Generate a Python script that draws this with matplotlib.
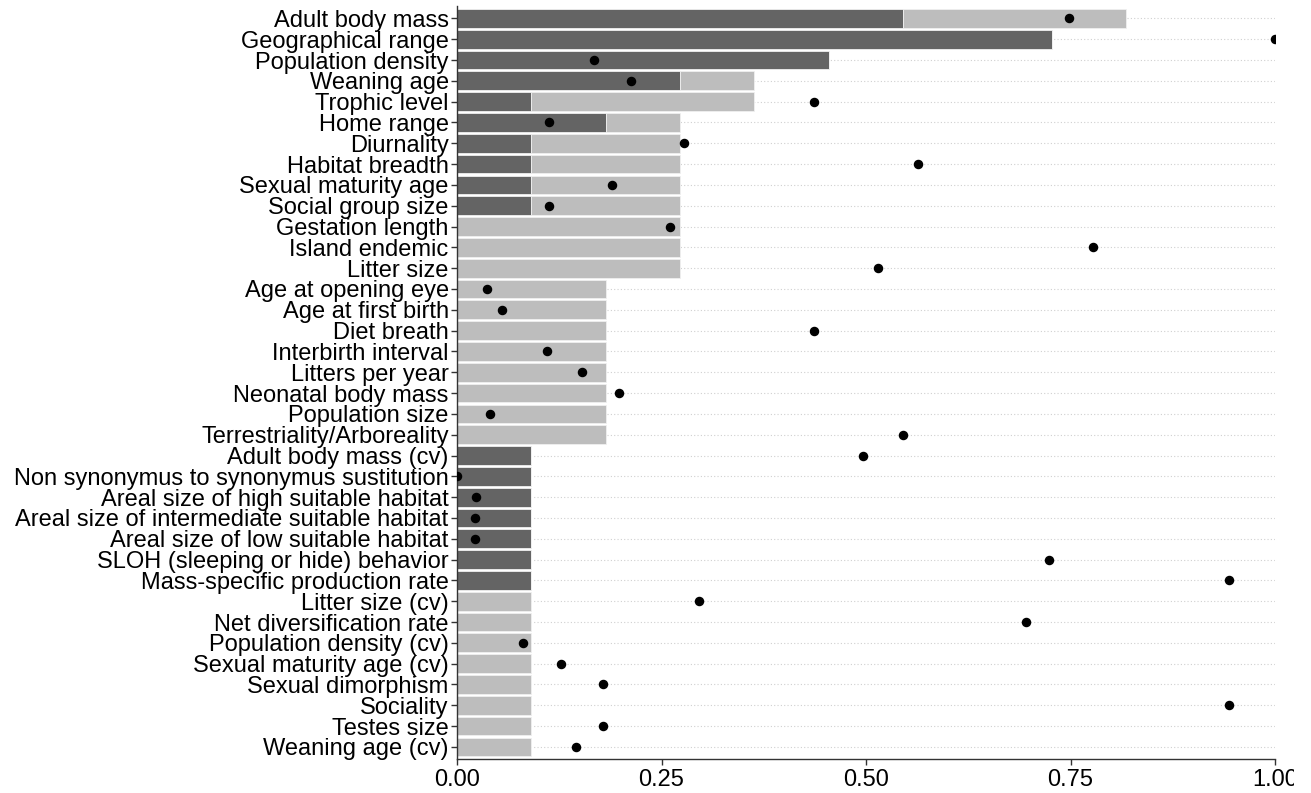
import matplotlib
matplotlib.use("Agg")
import matplotlib.pyplot as plt
from matplotlib.transforms import Bbox
import numpy as np

plt.rcParams['font.family'] = ['Liberation Sans', 'DejaVu Sans']

# variables, top to bottom
variables = [
    "Adult body mass", "Geographical range", "Population density", "Weaning age",
    "Trophic level", "Home range", "Diurnality", "Habitat breadth",
    "Sexual maturity age", "Social group size", "Gestation length", "Island endemic",
    "Litter size", "Age at opening eye", "Age at first birth", "Diet breath",
    "Interbirth interval", "Litters per year", "Neonatal body mass", "Population size",
    "Terrestriality/Arboreality", "Adult body mass (cv)",
    "Non synonymus to synonymus sustitution", "Areal size of high suitable habitat",
    "Areal size of intermediate suitable habitat", "Areal size of low suitable habitat",
    "SLOH (sleeping or hide) behavior", "Mass-specific production rate",
    "Litter size (cv)", "Net diversification rate", "Population density (cv)",
    "Sexual maturity age (cv)", "Sexual dimorphism", "Sociality", "Testes size",
    "Weaning age (cv)",
]

# counts out of 11 studies
n_studies = 11
dark_counts = [6, 8, 5, 3, 1, 2, 1, 1, 1, 1, 0, 0, 0, 0, 0, 0, 0, 0, 0, 0, 0,
               1, 1, 1, 1, 1, 1, 1, 0, 0, 0, 0, 0, 0, 0, 0]
light_counts = [3, 0, 0, 1, 3, 1, 2, 2, 2, 2, 3, 3, 3, 2, 2, 2, 2, 2, 2, 2, 2,
                0, 0, 0, 0, 0, 0, 0, 1, 1, 1, 1, 1, 1, 1, 1]

# point values
importance = [0.748, 1.000, 0.167, 0.213, 0.437, 0.112, 0.278, 0.564, 0.189, 0.112,
              0.260, 0.777, 0.515, 0.037, 0.055, 0.437, 0.110, 0.153, 0.198, 0.040,
              0.545, 0.496, 0.000, 0.023, 0.022, 0.022, 0.724, 0.944, 0.296, 0.696,
              0.081, 0.127, 0.178, 0.944, 0.178, 0.145]

dark = np.array(dark_counts) / n_studies
light = np.array(light_counts) / n_studies
y = np.arange(len(variables))[::-1]

fig = plt.figure(figsize=(13.11, 7.93), dpi=100)
ax = fig.add_axes([457 / 1311, 1 - 759 / 793, (1275 - 457) / 1311, (759 - 5.5) / 793])

for yy in y:
    ax.axhline(yy, color='#d0d0d0', lw=0.8, ls=(0, (1, 2)), zorder=0)

ax.barh(y, dark, height=0.9, color='#646464', edgecolor='#f0f0f0', lw=0.6, zorder=2)
ax.barh(y, light, left=dark, height=0.9, color='#bdbdbd', edgecolor='#f0f0f0', lw=0.6, zorder=2)
ax.scatter(importance, y, s=34, color='black', zorder=3)

ax.set_xlim(0, 1.0)
ax.set_ylim(-0.58, len(variables) - 0.38)
ax.set_xticks([0, 0.25, 0.5, 0.75, 1.0])
ax.set_xticklabels(["0.00", "0.25", "0.50", "0.75", "1.00"])
ax.set_yticks(y)
ax.set_yticklabels(variables)
ax.tick_params(axis='both', labelsize=17, colors='#333333', labelcolor='black',
               length=4, width=1)
ax.tick_params(axis='y', pad=2)
ax.tick_params(axis='x', pad=3)

for side in ['top', 'right']:
    ax.spines[side].set_visible(False)
for side in ['left', 'bottom']:
    ax.spines[side].set_color('#333333')
    ax.spines[side].set_linewidth(1)

# the original picture is cut just after "1.0"
clip = Bbox([[0, 0], [1294, 793]])
for lbl in ax.get_xticklabels():
    lbl.set_clip_box(clip)
    lbl.set_clip_on(True)

fig.savefig("out.png", dpi=100)
